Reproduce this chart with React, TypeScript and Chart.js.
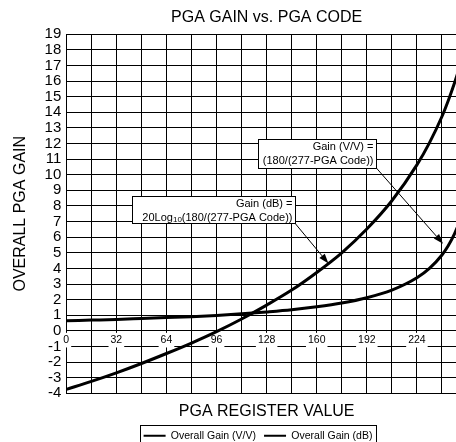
import React, { useEffect, useRef } from 'react';
import { Chart, registerables } from 'chart.js';

Chart.register(...registerables);

const FONT = "'Liberation Sans', Arial, Helvetica, sans-serif";

const TITLE = 'PGA GAIN vs. PGA CODE';
const X_TITLE = 'PGA REGISTER VALUE';
const Y_TITLE = 'OVERALL PGA GAIN';
const SERIES_NAMES = ['Overall Gain (V/V)', 'Overall Gain (dB)'];

const CODES = [0, 16, 32, 48, 64, 80, 96, 112, 128, 144, 160, 176, 192, 208, 224, 232, 240, 244, 248, 252, 256];
const GAIN_VV = [0.65, 0.69, 0.73, 0.79, 0.85, 0.91, 0.99, 1.09, 1.21, 1.35, 1.54, 1.78, 2.12, 2.61, 3.4, 4.0, 4.86, 5.45, 6.21, 7.2, 8.57];
const GAIN_DB = [-3.75, -3.24, -2.69, -2.09, -1.45, -0.78, -0.05, 0.76, 1.65, 2.61, 3.74, 5.0, 6.52, 8.33, 10.63, 12.04, 13.73, 14.74, 15.87, 17.15, 18.66];

const X_LABEL_TICKS = [0, 32, 64, 96, 128, 160, 192, 224, 256];
const X_GRID_TICKS = [0, 16, 32, 48, 64, 80, 96, 112, 128, 144, 160, 176, 192, 208, 224, 240, 256];
const Y_TICKS = [-4, -3, -2, -1, 0, 1, 2, 3, 4, 5, 6, 7, 8, 9, 10, 11, 12, 13, 14, 15, 16, 17, 18, 19];

const X_MIN = 0;
const X_MAX = 256;
const Y_MIN = -4;
const Y_MAX = 19;

// Callouts: box corners [x0, yTop, x1, yBottom] and arrow from/to, in data units
const CALLOUTS = [
  {
    lines: [[{ t: 'Gain (V/V) =' }], [{ t: '(180/(277-PGA Code))' }]],
    box: [122.3, 12.29, 198, 10.44],
    from: [198, 10.44],
    to: [240.7, 5.58],
  },
  {
    lines: [[{ t: 'Gain (dB) =' }], [{ t: '20Log' }, { t: '10', sub: true }, { t: '(180/(277-PGA Code))' }]],
    box: [42, 8.65, 145.8, 6.93],
    from: [145.8, 6.93],
    to: [167.5, 4.31],
  },
];

const LEGEND_CENTER_X = 258;

const calloutPlugin = {
  id: 'callouts',
  afterDatasetsDraw(chart: any) {
    const { ctx } = chart;
    const xs = chart.scales.xg;
    const ys = chart.scales.y;
    ctx.save();
    for (const a of CALLOUTS) {
      const bx0 = Math.round(xs.getPixelForValue(a.box[0])) + 0.5;
      const by0 = Math.round(ys.getPixelForValue(a.box[1])) + 0.5;
      const bx1 = Math.round(xs.getPixelForValue(a.box[2])) + 0.5;
      const by1 = Math.round(ys.getPixelForValue(a.box[3])) + 0.5;
      const fx = xs.getPixelForValue(a.from[0]);
      const fy = ys.getPixelForValue(a.from[1]);
      const tx = xs.getPixelForValue(a.to[0]);
      const ty = ys.getPixelForValue(a.to[1]);
      const ang = Math.atan2(ty - fy, tx - fx);
      const L = 10;
      const W = 3.5;
      const px = tx - L * Math.cos(ang);
      const py = ty - L * Math.sin(ang);
      ctx.strokeStyle = '#000';
      ctx.lineWidth = 1;
      ctx.beginPath();
      ctx.moveTo(fx, fy);
      ctx.lineTo(px, py);
      ctx.stroke();
      ctx.fillStyle = '#000';
      ctx.beginPath();
      ctx.moveTo(tx, ty);
      ctx.lineTo(px + W * Math.sin(ang), py - W * Math.cos(ang));
      ctx.lineTo(px - W * Math.sin(ang), py + W * Math.cos(ang));
      ctx.closePath();
      ctx.fill();

      ctx.fillStyle = '#fff';
      ctx.fillRect(bx0, by0, bx1 - bx0, by1 - by0);
      ctx.strokeRect(bx0, by0, bx1 - bx0, by1 - by0);

      ctx.fillStyle = '#000';
      ctx.textBaseline = 'middle';
      ctx.textAlign = 'left';
      a.lines.forEach((segs: any[], li: number) => {
        const cy = by0 + 7.5 + li * 14;
        const widths = segs.map((s) => {
          ctx.font = `${s.sub ? 8 : 11}px ${FONT}`;
          return ctx.measureText(s.t).width;
        });
        const total = widths.reduce((p, c) => p + c, 0);
        let x = bx1 - 3 - total;
        segs.forEach((s, i) => {
          ctx.font = `${s.sub ? 8 : 11}px ${FONT}`;
          ctx.fillText(s.t, x, cy + (s.sub ? 2 : 0));
          x += widths[i];
        });
      });
    }
    ctx.restore();
  },
};

const legendFramePlugin = {
  id: 'legendFrame',
  beforeDraw(chart: any) {
    const lg = chart.legend;
    if (!lg) return;
    lg.right = 2 * LEGEND_CENTER_X - lg.left;
  },
  afterDraw(chart: any) {
    const lg = chart.legend;
    if (!lg) return;
    const { ctx } = chart;
    const lo = lg.options.labels;
    const size = lo.font.size;
    ctx.save();
    ctx.font = `${size}px ${FONT}`;
    let total = 0;
    SERIES_NAMES.forEach((n, i) => {
      total += lo.boxWidth + size / 2 + ctx.measureText(n).width;
      if (i > 0) total += lo.padding;
    });
    const left = Math.round(LEGEND_CENTER_X - total / 2 - 4) + 0.5;
    const right = Math.round(LEGEND_CENTER_X + total / 2 + 4) + 0.5;
    const top = Math.round(lg.top + 2) + 0.5;
    ctx.strokeStyle = '#000';
    ctx.lineWidth = 1;
    ctx.strokeRect(left, top, right - left, chart.height + 10 - top);
    ctx.restore();
  },
};

export default function App() {
  const ref = useRef<HTMLCanvasElement | null>(null);

  useEffect(() => {
    if (!ref.current) return;
    Chart.defaults.font.family = FONT;
    Chart.defaults.color = '#000';
    const chart = new Chart(ref.current, {
      type: 'line',
      data: {
        labels: CODES,
        datasets: [
          {
            label: SERIES_NAMES[0],
            data: CODES.map((c, i) => ({ x: c, y: GAIN_VV[i] })),
            borderColor: '#000',
            backgroundColor: '#000',
            borderWidth: 3,
            pointRadius: 0,
            cubicInterpolationMode: 'monotone',
            xAxisID: 'xg',
            yAxisID: 'y',
          },
          {
            label: SERIES_NAMES[1],
            data: CODES.map((c, i) => ({ x: c, y: GAIN_DB[i] })),
            borderColor: '#000',
            backgroundColor: '#000',
            borderWidth: 3,
            pointRadius: 0,
            cubicInterpolationMode: 'monotone',
            xAxisID: 'xg',
            yAxisID: 'y',
          },
        ],
      },
      options: {
        responsive: false,
        animation: false,
        events: [],
        layout: { padding: { left: 4, right: 13, top: 0, bottom: 0 } },
        scales: {
          xg: {
            type: 'linear',
            position: 'bottom',
            min: X_MIN,
            max: X_MAX,
            afterBuildTicks: (s: any) => {
              s.ticks = X_GRID_TICKS.map((v) => ({ value: v }));
            },
            ticks: { display: false },
            grid: { color: '#000', lineWidth: 1, drawTicks: false },
            border: { display: true, color: '#000', width: 1 },
            title: {
              display: true,
              text: X_TITLE,
              color: '#000',
              font: { family: FONT, size: 16 },
              padding: { top: 9, bottom: 1 },
            },
          },
          y: {
            type: 'linear',
            position: 'left',
            min: Y_MIN,
            max: Y_MAX,
            afterBuildTicks: (s: any) => {
              s.ticks = Y_TICKS.map((v) => ({ value: v }));
            },
            ticks: {
              autoSkip: false,
              color: '#000',
              font: { family: FONT, size: 15 },
              padding: 5,
            },
            grid: { color: '#000', lineWidth: 1, drawTicks: false },
            border: { display: true, color: '#000', width: 1 },
            title: {
              display: true,
              text: Y_TITLE,
              color: '#000',
              font: { family: FONT, size: 16 },
              padding: { top: 7.4, bottom: 9 },
            },
          },
          xl: {
            type: 'linear',
            position: { y: 0 },
            min: X_MIN,
            max: X_MAX,
            afterBuildTicks: (s: any) => {
              s.ticks = X_LABEL_TICKS.map((v) => ({ value: v }));
            },
            ticks: {
              autoSkip: false,
              maxRotation: 0,
              color: '#000',
              font: { family: FONT, size: 10.5 },
              padding: 3,
              showLabelBackdrop: true,
              backdropColor: '#fff',
              backdropPadding: { x: 2, y: 1 },
            },
            grid: { display: false, drawTicks: false },
            border: { display: false },
          },
        } as any,
        plugins: {
          title: {
            display: true,
            text: TITLE,
            color: '#000',
            fullSize: false,
            font: { family: FONT, size: 16, weight: 'normal' },
            padding: { top: 8, bottom: 7 },
          },
          legend: {
            display: true,
            position: 'bottom',
            labels: {
              color: '#000',
              font: { family: FONT, size: 10.5 },
              boxWidth: 22,
              boxHeight: 2,
              padding: 8,
              generateLabels: (c: any) =>
                c.data.datasets.map((d: any, i: number) => ({
                  text: d.label,
                  fillStyle: '#000',
                  strokeStyle: '#000',
                  lineWidth: 0,
                  hidden: false,
                  datasetIndex: i,
                  fontColor: '#000',
                })),
            },
          },
          tooltip: { enabled: false },
        },
      } as any,
      plugins: [calloutPlugin, legendFramePlugin],
    });
    return () => chart.destroy();
  }, []);

  return (
    <div style={{ position: 'fixed', left: 0, top: 0, width: 456, height: 442, overflow: 'hidden', background: '#fff' }}>
      <canvas ref={ref} width={480} height={451} style={{ display: 'block', width: 480, height: 451 }} />
    </div>
  );
}
